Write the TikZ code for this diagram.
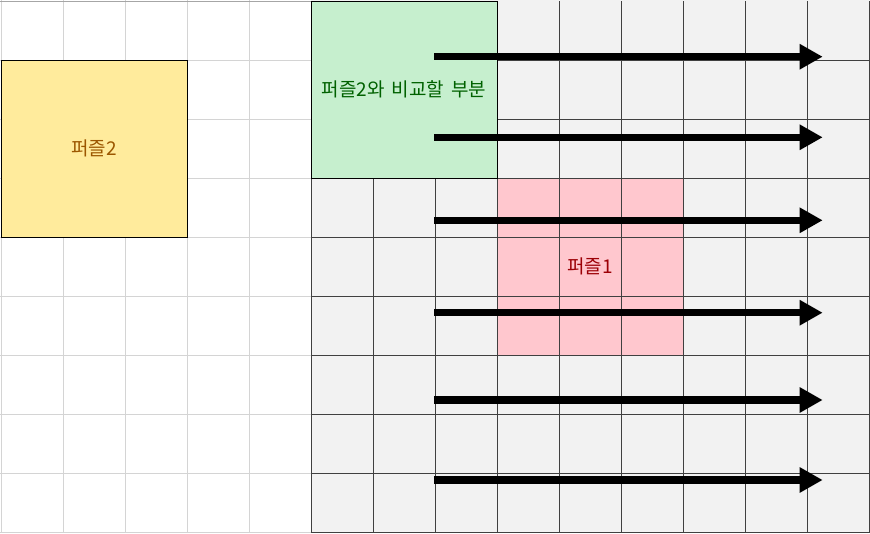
\documentclass[tikz,border=0pt]{standalone}
\usepackage{fontspec}
\newfontfamily\krfont{Noto Sans CJK KR}
\usetikzlibrary{arrows.meta}
\definecolor{lightgrid}{HTML}{D4D4D4}
\definecolor{darkgrid}{HTML}{404040}
\definecolor{grayfill}{HTML}{F2F2F2}
\definecolor{greenfill}{HTML}{C6EFCE}
\definecolor{greentext}{HTML}{006100}
\definecolor{pinkfill}{HTML}{FFC7CE}
\definecolor{pinktext}{HTML}{9C0006}
\definecolor{yellowfill}{HTML}{FFEB9C}
\definecolor{yellowtext}{HTML}{9C5700}
\tikzset{
  lgrid/.style={draw=lightgrid, line width=1pt},
  dgrid/.style={draw=darkgrid, line width=1pt},
  cellbox/.style={anchor=north west, inner sep=0pt, outer sep=0pt,
    font=\krfont\fontsize{19}{23}\selectfont},
  bigarrow/.style={line width=7.5pt, -{Triangle[length=23pt,width=24pt]}}
}
\begin{document}
\begin{tikzpicture}[x=1pt,y=-1pt]
\useasboundingbox (0,0) rectangle (870,533);
\fill[white] (0,0) rectangle (870,533);
% left light grid
\foreach \x in {1,63,125,187,249}
  \draw[lgrid] (\x,0) -- (\x,533);
\foreach \y in {60,119,178,237,296,355,414,473,532}
  \draw[lgrid] (0,\y) -- (311,\y);
\draw[draw=gray!70, line width=1pt] (0,1) -- (870,1);
% right grey region
\fill[grayfill] (311,0) rectangle (870,533);
\node[cellbox, fill=pinkfill, minimum width=186pt, minimum height=177pt,
  text=pinktext] (p1) at (497,178) {퍼즐1};
\foreach \x in {311,373,435,497,559,621,683,745,807,869}
  \draw[dgrid] (\x,1) -- (\x,533);
\foreach \y in {60,119,178,237,296,355,414,473,532}
  \draw[dgrid] (311,\y) -- (870,\y);
% boxes
\node[cellbox, draw=black, fill=greenfill, minimum width=186pt, minimum height=177pt,
  text=greentext] (cmp) at (311,1) {퍼즐2와\hspace{3pt} 비교할\hspace{3pt} 부분};
\node[cellbox, draw=black, fill=yellowfill, minimum width=186pt, minimum height=177pt,
  text=yellowtext] (p2) at (1,60) {퍼즐2};
% arrows
\foreach \i/\y in {1/56.7,2/137.3,3/220.3,4/312.7,5/400,6/480}{
  \coordinate (s\i) at (434,\y);
  \coordinate (e\i) at (822.7,\y);
  \draw[bigarrow] (s\i) -- (e\i);
}
\end{tikzpicture}
\end{document}
